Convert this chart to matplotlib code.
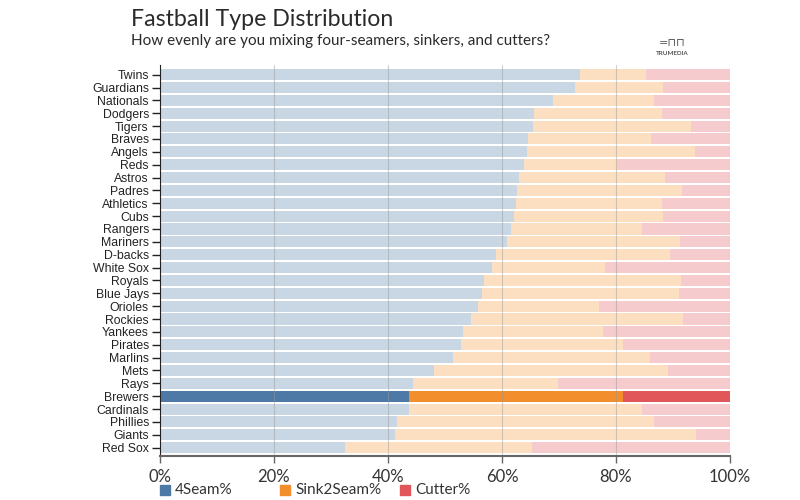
"""
Fastball type distribution per team: stacked horizontal bars of 4-seam, sinker and cutter share.
"""

import matplotlib.pyplot as plt
from matplotlib.patches import Rectangle
from matplotlib.ticker import PercentFormatter

TEAMS = [
    'Twins', 'Guardians', 'Nationals', 'Dodgers', 'Tigers', 'Braves', 'Angels',
    'Reds', 'Astros', 'Padres', 'Athletics', 'Cubs', 'Rangers', 'Mariners',
    'D-backs', 'White Sox', 'Royals', 'Blue Jays', 'Orioles', 'Rockies',
    'Yankees', 'Pirates', 'Marlins', 'Mets', 'Rays', 'Brewers', 'Cardinals',
    'Phillies', 'Giants', 'Red Sox',
]
FOUR_SEAM = [73.7, 72.8, 69.0, 65.7, 65.5, 64.6, 64.3, 63.9, 63.0, 62.6,
             62.5, 62.1, 61.6, 60.9, 58.9, 58.2, 56.8, 56.5, 55.8, 54.6,
             53.1, 52.8, 51.4, 48.1, 44.3, 43.6, 43.6, 41.5, 41.2, 32.4]
SINKER = [11.6, 15.5, 17.7, 22.4, 27.7, 21.6, 29.5, 16.3, 25.6, 29.0,
          25.5, 26.1, 22.9, 30.4, 30.5, 19.8, 34.6, 34.5, 21.3, 37.2,
          24.7, 28.5, 34.5, 41.0, 25.6, 37.6, 41.0, 45.2, 52.9, 32.9]
CUTTER = [14.7, 11.7, 13.3, 11.9, 6.8, 13.8, 6.2, 19.8, 11.4, 8.4,
          12.0, 11.8, 15.5, 8.7, 10.6, 22.0, 8.6, 9.0, 22.9, 8.2,
          22.2, 18.7, 14.1, 10.9, 30.1, 18.8, 15.4, 13.3, 5.9, 34.7]
SERIES = ['4Seam%', 'Sink2Seam%', 'Cutter%']
HIGHLIGHT = 'Brewers'

FULL = ['#4e79a7', '#f28e2b', '#e15759']
FADED = ['#c9d6e3', '#fcdfc0', '#f6cbcd']

NARROW = ['Liberation Sans', 'DejaVu Sans']
LATO = ['Lato', 'DejaVu Sans']


def plot_bars(ax):
    y = list(range(len(TEAMS)))
    left = [0.0] * len(TEAMS)
    for k, values in enumerate([FOUR_SEAM, SINKER, CUTTER]):
        colors = [FULL[k] if t == HIGHLIGHT else FADED[k] for t in TEAMS]
        ax.barh(y, values, left=left, height=0.86, color=colors, zorder=1)
        left = [left[i] + values[i] for i in range(len(left))]

    for x in [20, 40, 60, 80, 100]:
        ax.axvline(x, color='#999999', lw=0.8, alpha=0.45, zorder=2)

    ax.set_yticks(y)
    ax.set_yticklabels(TEAMS, fontfamily=NARROW, fontsize=8.8, color='#222222')
    ax.set_ylim(len(TEAMS) - 0.35, -0.75)
    ax.set_xlim(0, 100)
    ax.set_xticks([0, 20, 40, 60, 80, 100])
    ax.xaxis.set_major_formatter(PercentFormatter(decimals=0))
    for lbl in ax.get_xticklabels():
        lbl.set_fontfamily(LATO)
        lbl.set_fontsize(12)
        lbl.set_color('#333333')

    ax.tick_params(axis='y', length=6, width=1, color='#222222', pad=2)
    ax.tick_params(axis='x', length=5, width=1, color='#666666', pad=4)
    ax.spines['top'].set_visible(False)
    ax.spines['right'].set_visible(False)
    ax.spines['left'].set_color('#222222')
    ax.spines['bottom'].set_color('#666666')
    ax.spines['bottom'].set_linewidth(1.5)


def execute():
    fig = plt.figure(figsize=(8, 5), dpi=100)
    ax = fig.add_axes([0.2, 0.088, 0.7125, 0.782])
    plot_bars(ax)

    fig.text(0.164, 0.962, 'Fastball Type Distribution', fontfamily=LATO,
             fontsize=16.7, color='#2a2a2a', va='center')
    fig.text(0.164, 0.917, 'How evenly are you mixing four-seamers, sinkers, and cutters?',
             fontfamily=LATO, fontsize=11, color='#2a2a2a', va='center')
    fig.text(0.84, 0.914, '=⊓⊓', fontsize=8, color='#555555', ha='center', va='center')
    fig.text(0.84, 0.893, 'TRUMEDIA', fontfamily=LATO, fontweight='bold',
             fontsize=4.5, color='#555555', ha='center', va='center')

    # legend along the bottom
    xs = [0.2, 0.35, 0.5]
    for k, name in enumerate(SERIES):
        fig.patches.append(Rectangle((xs[k], 0.01), 0.0125, 0.02, color=FULL[k],
                                     transform=fig.transFigure, figure=fig))
        fig.text(xs[k] + 0.019, 0.02, name, fontfamily=LATO, fontsize=11,
                 color='#333333', va='center')

    fig.savefig('out.png', dpi=100)


if __name__ == '__main__':
    execute()
